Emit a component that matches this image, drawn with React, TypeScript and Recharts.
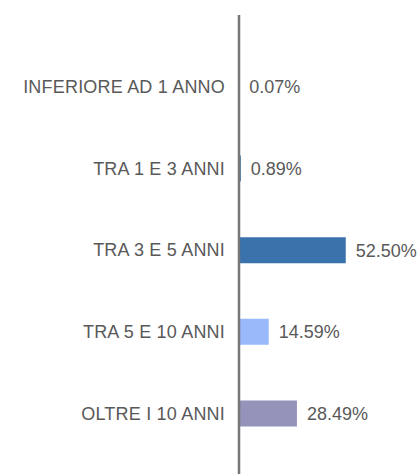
import { BarChart, Bar, XAxis, YAxis, Cell, LabelList, ReferenceLine } from 'recharts';

// durata residua
const categories = [
  'INFERIORE AD 1 ANNO',
  'TRA 1 E 3 ANNI',
  'TRA 3 E 5 ANNI',
  'TRA 5 E 10 ANNI',
  'OLTRE I 10 ANNI',
];
const percentages = [0.07, 0.89, 52.5, 14.59, 28.49];
const barColors = ['#3a72ab', '#3a72ab', '#3a72ab', '#99b9fb', '#9593b9'];

const data = categories.map((name, i) => ({
  name,
  value: percentages[i],
}));

const textColor = '#595959';

const App = () => {
  return (
    <div
      style={{
        position: 'absolute',
        left: 0,
        top: 0,
        fontFamily: '"Liberation Sans", Arial, sans-serif',
      }}
    >
      <BarChart
        width={419}
        height={474}
        data={data}
        layout='vertical'
        margin={{ top: 15, right: 58, bottom: 0, left: 0 }}
      >
        <XAxis type='number' domain={[0, 60]} hide />
        <YAxis
          type='category'
          dataKey='name'
          width={239}
          axisLine={false}
          tickLine={false}
          tickSize={6}
          tickMargin={8}
          padding={{ top: 31, bottom: 20 }}
          tick={{ fill: textColor, fontSize: 18, letterSpacing: 0.2 }}
        />
        <Bar dataKey='value' barSize={26} isAnimationActive={false}>
          {data.map((d, i) => (
            <Cell key={d.name} fill={barColors[i]} />
          ))}
          <LabelList
            dataKey='value'
            position='right'
            offset={10}
            fill={textColor}
            fontSize={18}
            formatter={(v: any) => `${Number(v).toFixed(2)}%`}
          />
        </Bar>
        {/* linea dell'asse sopra le barre */}
        <ReferenceLine x={0} stroke='#767676' strokeWidth={2.5} />
      </BarChart>
    </div>
  );
};

export default App;
